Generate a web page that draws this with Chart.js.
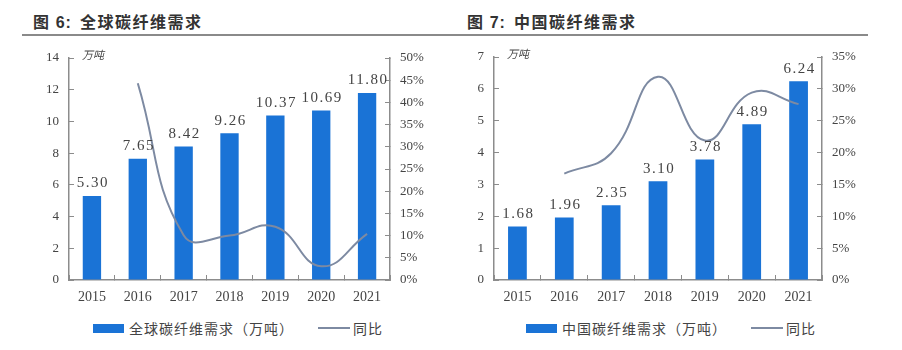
<!DOCTYPE html>
<html lang="zh">
<head>
<meta charset="UTF-8">
<title>碳纤维需求</title>
<script src="https://cdn.jsdelivr.net/npm/chart.js@4.4.1/dist/chart.umd.min.js"></script>
<style>
    body {
        margin: 0;
        width: 902px;
        height: 350px;
        background: #fff;
        position: relative;
        overflow: hidden;
        font-family: 'Liberation Serif', 'Noto Sans CJK SC', serif;
        color: #444;
    }
    .title {
        position: absolute;
        top: 9px;
        font-family: 'Noto Sans CJK SC', sans-serif;
        font-weight: bold;
        font-size: 16px;
        letter-spacing: 1.5px;
        color: #333;
        white-space: nowrap;
    }
    .title b { font-family: 'Liberation Sans', Arial, sans-serif; letter-spacing: 1px; margin-right: 8px; }
    .rule {
        position: absolute;
        top: 34px;
        left: 22px;
        width: 846px;
        height: 2px;
        background: #8a8a8a;
    }
    canvas { position: absolute; top: 0; }
    .legend {
        position: absolute;
        top: 318px;
        font-size: 14px;
        letter-spacing: 1px;
        color: #444;
        white-space: nowrap;
        display: flex;
        align-items: center;
    }
    .box { display: inline-block; width: 31px; height: 9px; background: #1a73d6; margin-right: 5px; }
    .ln { display: inline-block; width: 32px; height: 2px; background: #7d8aa2; margin-left: 24px; margin-right: 3px; }
</style>
</head>
<body>
<div class="title" style="left:33px">图 <b>6:</b>全球碳纤维需求</div>
<div class="title" style="left:467px">图 <b>7:</b>中国碳纤维需求</div>
<div class="rule"></div>

<canvas id="globalChart" width="450" height="310" style="left:0"></canvas>
<canvas id="chinaChart" width="452" height="310" style="left:450px"></canvas>

<div class="legend" style="left:93px"><span class="box"></span>全球碳纤维需求（万吨）<span class="ln"></span>同比</div>
<div class="legend" style="left:526px"><span class="box"></span>中国碳纤维需求（万吨）<span class="ln"></span>同比</div>

<script>
    // data
    const years = ['2015', '2016', '2017', '2018', '2019', '2020', '2021'];
    const globalDemand = [5.30, 7.65, 8.42, 9.26, 10.37, 10.69, 11.80];
    const globalYoY = [null, 44.3, 10.1, 10.0, 12.0, 3.1, 10.4];
    const chinaDemand = [1.68, 1.96, 2.35, 3.10, 3.78, 4.89, 6.24];
    const chinaYoY = [null, 16.7, 19.9, 31.9, 21.9, 29.4, 27.6];

    const barColor = '#1a73d6';
    const lineColor = '#7d8aa2';
    const axisColor = '#8c8c8c';
    const textColor = '#444';
    const serif = "'Liberation Serif', 'Noto Sans CJK SC', serif";

    // value labels above bars + the unit text
    const barLabels = {
        id: 'barLabels',
        afterDatasetsDraw(chart) {
            const ctx = chart.ctx;
            const meta = chart.getDatasetMeta(0);
            const values = chart.data.datasets[0].data;
            ctx.save();
            ctx.fillStyle = textColor;
            ctx.font = '15px ' + serif;
            ctx.letterSpacing = '1.5px';
            ctx.textAlign = 'center';
            ctx.textBaseline = 'bottom';
            meta.data.forEach((bar, i) => {
                ctx.fillText(values[i].toFixed(2), bar.x + 1, bar.y - 5);
            });
            ctx.letterSpacing = '0px';
            ctx.font = 'italic 11px ' + serif;
            ctx.textAlign = 'left';
            ctx.textBaseline = 'middle';
            ctx.fillText('万吨', chart.chartArea.left + 13, chart.chartArea.top - 2);
            ctx.restore();
        }
    };

    function makeChart(id, bars, yoy, barName, yMax, yStep, y2Max, pad, yWidth, y2Width) {
        return new Chart(document.getElementById(id), {
            type: 'bar',
            data: {
                labels: years,
                datasets: [
                    {
                        type: 'bar',
                        label: barName,
                        data: bars,
                        backgroundColor: barColor,
                        categoryPercentage: 1,
                        barPercentage: 0.4,
                        yAxisID: 'y',
                        order: 2
                    },
                    {
                        type: 'line',
                        label: '同比',
                        data: yoy,
                        borderColor: lineColor,
                        borderWidth: 2,
                        pointRadius: 0,
                        tension: 0.45,
                        fill: false,
                        yAxisID: 'y2',
                        order: 1
                    }
                ]
            },
            options: {
                responsive: false,
                animation: false,
                layout: { padding: pad },
                plugins: { legend: { display: false }, tooltip: { enabled: false } },
                scales: {
                    x: {
                        grid: { offset: true, drawOnChartArea: false, tickLength: -5, color: axisColor },
                        border: { color: axisColor, width: 1.5 },
                        ticks: { color: textColor, font: { family: serif, size: 14 }, padding: 14 },
                        afterFit: s => { s.height = 30; }
                    },
                    y: {
                        position: 'left',
                        min: 0,
                        max: yMax,
                        grid: { drawOnChartArea: false, tickLength: -5, color: axisColor },
                        border: { color: axisColor, width: 1.5 },
                        ticks: { stepSize: yStep, color: textColor, font: { family: serif, size: 13 }, padding: 15 },
                        afterFit: s => { s.width = yWidth; }
                    },
                    y2: {
                        position: 'right',
                        min: 0,
                        max: y2Max,
                        grid: { drawOnChartArea: false, tickLength: -5, color: axisColor },
                        border: { color: axisColor, width: 1.5 },
                        ticks: {
                            stepSize: 5,
                            color: textColor,
                            font: { family: serif, size: 13 },
                            padding: 15,
                            callback: v => v + '%'
                        },
                        afterFit: s => { s.width = y2Width; }
                    }
                }
            },
            plugins: [barLabels]
        });
    }

    makeChart('globalChart', globalDemand, globalYoY, '全球碳纤维需求（万吨）', 14, 2, 50,
        { top: 58, left: 9, right: 0, bottom: 0 }, 60, 60);
    makeChart('chinaChart', chinaDemand, chinaYoY, '中国碳纤维需求（万吨）', 7, 1, 35,
        { top: 57, left: 0, right: 20, bottom: 0 }, 44, 60);
</script>
</body>
</html>
